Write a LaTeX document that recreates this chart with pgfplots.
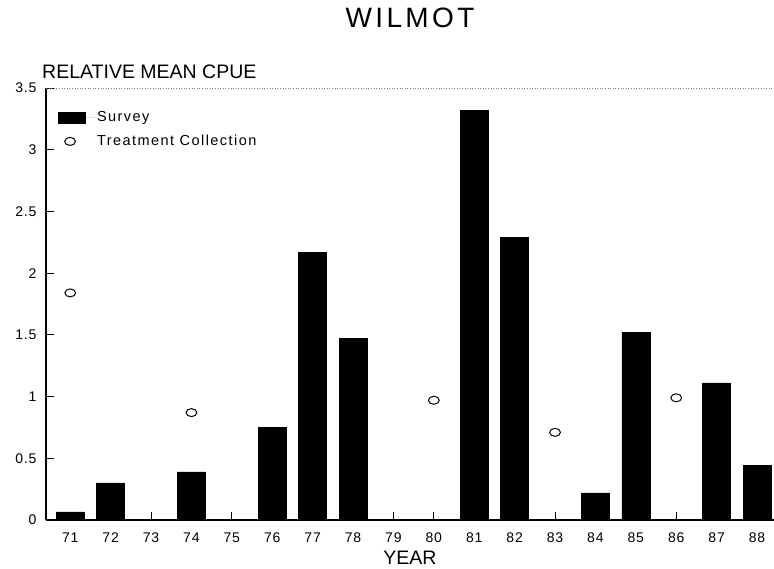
\documentclass[border=0pt]{standalone}
\usepackage{fontspec}
\setmainfont{Liberation Sans}
\usepackage{pgfplots}
\pgfplotsset{compat=1.18}

\begin{document}
\begin{tikzpicture}
\useasboundingbox (-46pt,-49pt) rectangle (728pt,520pt);
\begin{axis}[
    at={(0,0)}, anchor=south west,
    scale only axis,
    width=728pt, height=432pt,
    xmin=70.4, xmax=88.42,
    ymin=0, ymax=3.5,
    axis x line*=bottom,
    axis y line*=left,
    axis line style={line width=1.1pt, black},
    xtick={71,72,73,74,75,76,77,78,79,80,81,82,83,84,85,86,87,88},
    ytick={0,0.5,1,1.5,2,2.5,3,3.5},
    tick align=inside,
    major tick length=8pt,
    tick style={line width=0.9pt, black},
    /pgf/number format/assume math mode=true,
    tick label style={font=\fontsize{14}{16}\selectfont\addfontfeatures{LetterSpace=6}},
    xticklabel style={yshift=-9pt},
    yticklabel style={xshift=-6pt},
    legend style={
        at={(axis description cs:0.016,0.95)}, anchor=north west,
        draw=none, fill=none,
        font=\fontsize{14.5}{16}\selectfont\addfontfeatures{LetterSpace=10},
        row sep=8pt,
        inner sep=0pt,
    },
    legend cell align=left,
]
\addplot[ybar, fill=black, draw=black, bar width=28pt,
    legend image code/.code={\fill[black] (0pt,-5.5pt) rectangle (27pt,5.5pt); \path[draw=none] (0pt,0pt) -- (37pt,0pt);}]
coordinates {
    (71,0.065) (72,0.30) (74,0.39) (76,0.75) (77,2.17) (78,1.47)
    (81,3.32) (82,2.29) (84,0.22) (85,1.52) (87,1.11) (88,0.44)
};
\addlegendentry{Survey}
\addplot[only marks, mark=o, mark size=4pt,
    mark options={xscale=1.35, yscale=1, line width=1pt, black},
    legend image code/.code={\draw[mark=o, mark size=4pt, mark options={xscale=1.35, line width=1pt}] plot coordinates {(12pt,0pt)}; \path[draw=none] (0pt,0pt) -- (37pt,0pt);}]
coordinates {
    (71,1.84) (74,0.87) (80,0.97) (83,0.71) (86,0.99)
};
\addlegendentry{Treatment Collection}
\draw[gray, line width=0.6pt, dotted] (rel axis cs:0,1) -- (rel axis cs:1,1);
\end{axis}
\node[font=\fontsize{28}{32}\selectfont\addfontfeatures{LetterSpace=12}] at (364pt,502pt) {WILMOT};
\node[anchor=west, font=\fontsize{19.5}{22}\selectfont, inner sep=0pt] at (-4pt,448pt) {RELATIVE MEAN CPUE};
\node[font=\fontsize{19.5}{22}\selectfont, inner sep=0pt] at (364pt,-38pt) {YEAR};
\end{tikzpicture}
\end{document}
